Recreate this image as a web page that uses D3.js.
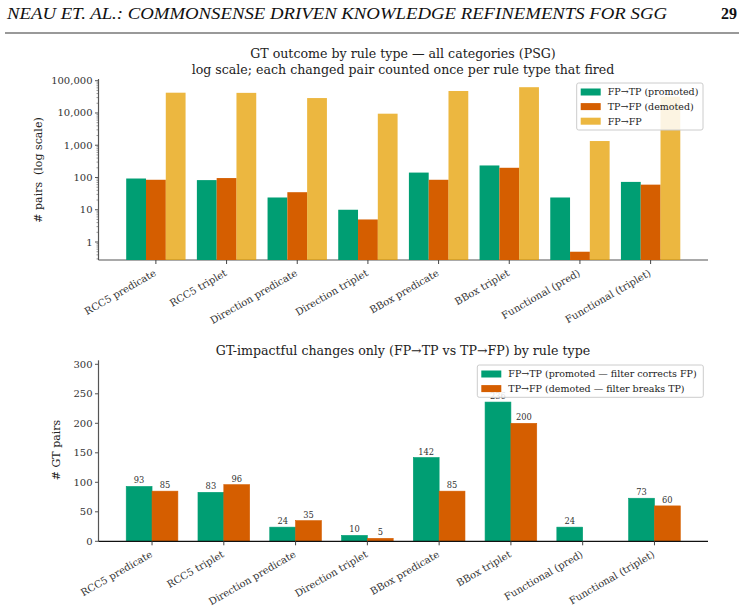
<!DOCTYPE html>
<html>
<head>
<meta charset="utf-8">
<script src="https://cdn.jsdelivr.net/npm/d3@7"></script>
<style>
  body { margin: 0; background: #fff; }
  svg { display: block; }
</style>
</head>
<body>
<div id="chart"></div>
<script>
// Rule-type breakdown of GT outcome changes (PSG), two stacked panels.

const categories = ["RCC5 predicate", "RCC5 triplet", "Direction predicate", "Direction triplet",
  "BBox predicate", "BBox triplet", "Functional (pred)", "Functional (triplet)"];
const promoted = [93, 83, 24, 10, 142, 236, 24, 73];      // FP→TP
const demoted = [85, 96, 35, 5, 85, 200, 0, 60];          // TP→FP
const fpToFp = [42500, 42000, 29000, 9500, 48000, 63000, 1350, 32000];
const logTicks = [1, 10, 100, 1000, 10000, 100000];
const linTicks = [0, 50, 100, 150, 200, 250, 300];

const green = "#009E73", orange = "#D55E00", yellow = "#E69F00";
const serif = "'DejaVu Serif', serif";

const width = 744, height = 608;
const svg = d3.select("#chart").append("svg")
  .attr("width", width).attr("height", height)
  .style("font-family", serif);

// page header
svg.append("text")
  .attr("x", 7).attr("y", 19)
  .attr("font-family", "'Liberation Serif', serif")
  .attr("font-style", "italic").attr("font-size", 16)
  .attr("textLength", 660).attr("lengthAdjust", "spacingAndGlyphs")
  .attr("fill", "#111")
  .text("NEAU ET. AL.: COMMONSENSE DRIVEN KNOWLEDGE REFINEMENTS FOR SGG");
svg.append("text")
  .attr("x", 737).attr("y", 19).attr("text-anchor", "end")
  .attr("font-family", "'Liberation Serif', serif")
  .attr("font-weight", "bold").attr("font-size", 16).attr("fill", "#111")
  .text("29");
svg.append("line")
  .attr("x1", 5).attr("x2", 739).attr("y1", 33).attr("y2", 33)
  .attr("stroke", "#777").attr("stroke-width", 1.5);

const left = 98.5, right = 708;

function xLabels(g, x, y0) {
  g.append("g").selectAll("text")
    .data(categories)
    .join("text")
    .attr("transform", (d, i) => `translate(${x(i) + 1},${y0 + 15}) rotate(-30)`)
    .attr("text-anchor", "end")
    .attr("font-size", 10).attr("fill", "#333")
    .text(d => d);
  g.append("g").selectAll("line")
    .data(categories)
    .join("line")
    .attr("x1", (d, i) => x(i)).attr("x2", (d, i) => x(i))
    .attr("y1", y0).attr("y2", y0 + 4)
    .attr("stroke", "#444");
}

function legend(g, x0, y0, w, h, items) {
  g.append("rect")
    .attr("x", x0).attr("y", y0).attr("width", w).attr("height", h)
    .attr("rx", 2).attr("fill", "#fff").attr("fill-opacity", 0.85)
    .attr("stroke", "#ccc").attr("stroke-width", 1);
  const row = g.selectAll("g.item").data(items).join("g")
    .attr("transform", (d, i) => `translate(${x0 + 4},${y0 + 9 + i * 14.6})`);
  row.append("rect")
    .attr("x", 0).attr("y", -3.5).attr("width", 20).attr("height", 7)
    .attr("fill", d => d.color).attr("fill-opacity", d => d.opacity || 1);
  row.append("text")
    .attr("x", 27).attr("dy", "0.35em")
    .attr("font-size", 9.5).attr("fill", "#222")
    .text(d => d.label);
}

// ---------- top panel: log scale ----------
{
  const g = svg.append("g");
  const x = d3.scaleLinear().domain([-0.812, 7.812]).range([left, right]);
  const y = d3.scaleLog().domain([0.277, 113000]).range([260, 79]);
  const bw = 0.28;

  g.append("text").attr("x", 403).attr("y", 58).attr("text-anchor", "middle")
    .attr("font-size", 12.6).attr("fill", "#222")
    .text("GT outcome by rule type — all categories (PSG)");
  g.append("text").attr("x", 403).attr("y", 73.5).attr("text-anchor", "middle")
    .attr("font-size", 12.6).attr("fill", "#222")
    .text("log scale; each changed pair counted once per rule type that fired");

  // minor ticks
  const minors = [];
  for (let e = -1; e <= 5; e++) for (let m = 2; m <= 9; m++) {
    const v = m * Math.pow(10, e);
    if (v > y.domain()[0] && v < y.domain()[1]) minors.push(v);
  }
  g.append("g").selectAll("line").data(minors).join("line")
    .attr("x1", left - 2).attr("x2", left)
    .attr("y1", d => y(d)).attr("y2", d => y(d))
    .attr("stroke", "#555").attr("stroke-width", 0.6);
  g.append("g").selectAll("line").data(logTicks).join("line")
    .attr("x1", left - 3.5).attr("x2", left)
    .attr("y1", d => y(d)).attr("y2", d => y(d))
    .attr("stroke", "#555");
  g.append("g").selectAll("text").data(logTicks).join("text")
    .attr("x", left - 6).attr("y", d => y(d)).attr("dy", "0.35em")
    .attr("text-anchor", "end").attr("font-size", 10).attr("fill", "#333")
    .text(d => d3.format(",")(d));

  g.append("line").attr("x1", left).attr("x2", left).attr("y1", 79).attr("y2", 260)
    .attr("stroke", "#555").attr("stroke-width", 1.2);
  g.append("line").attr("x1", left).attr("x2", right).attr("y1", 260).attr("y2", 260)
    .attr("stroke", "#555").attr("stroke-width", 1.2);

  const series = [
    { vals: promoted, color: green, off: -1, op: 1 },
    { vals: demoted, color: orange, off: 0, op: 1 },
    { vals: fpToFp, color: yellow, off: 1, op: 0.75 }
  ];
  series.forEach(s => {
    g.append("g").selectAll("rect").data(s.vals).join("rect")
      .attr("x", (d, i) => x(i + s.off * bw - bw / 2))
      .attr("width", x(bw) - x(0))
      .attr("y", d => y(Math.max(d, 0.5)))
      .attr("height", d => 260 - y(Math.max(d, 0.5)))
      .attr("fill", s.color).attr("fill-opacity", s.op);
  });

  xLabels(g, x, 260);

  g.append("text")
    .attr("transform", "translate(41.5,170) rotate(-90)")
    .attr("text-anchor", "middle").attr("font-size", 11).attr("fill", "#222")
    .attr("xml:space", "preserve")
    .text("# pairs  (log scale)");

  legend(g, 576.7, 83, 126.3, 47, [
    { label: "FP→TP (promoted)", color: green },
    { label: "TP→FP (demoted)", color: orange },
    { label: "FP→FP", color: yellow, opacity: 0.75 }
  ]);
}

// ---------- bottom panel: linear scale ----------
{
  const g = svg.append("g");
  const x = d3.scaleLinear().domain([-0.746, 7.746]).range([left, right]);
  const y = d3.scaleLinear().domain([0, 236 * 1.3]).range([541.3, 360.3]);
  const bw = 0.36;
  const y0 = y(0);

  g.append("text").attr("x", 403).attr("y", 355).attr("text-anchor", "middle")
    .attr("font-size", 12.6).attr("fill", "#222")
    .text("GT-impactful changes only (FP→TP vs TP→FP) by rule type");

  g.append("g").selectAll("line").data(linTicks).join("line")
    .attr("x1", left - 3.5).attr("x2", left)
    .attr("y1", d => y(d)).attr("y2", d => y(d))
    .attr("stroke", "#555");
  g.append("g").selectAll("text").data(linTicks).join("text")
    .attr("x", left - 6).attr("y", d => y(d)).attr("dy", "0.35em")
    .attr("text-anchor", "end").attr("font-size", 10).attr("fill", "#333")
    .text(d => d);

  g.append("line").attr("x1", left).attr("x2", left).attr("y1", y.range()[1]).attr("y2", y0)
    .attr("stroke", "#555").attr("stroke-width", 1.2);

  const series = [
    { vals: promoted, color: green, off: -0.5 },
    { vals: demoted, color: orange, off: 0.5 }
  ];
  series.forEach(s => {
    const pts = s.vals.map((v, i) => ({ v, i }));
    g.append("g").selectAll("rect").data(pts).join("rect")
      .attr("x", d => x(d.i + s.off * bw - bw / 2))
      .attr("width", x(bw) - x(0))
      .attr("y", d => y(d.v))
      .attr("height", d => y0 - y(d.v))
      .attr("fill", s.color)
      .attr("stroke", s.color).attr("stroke-width", 0.6);
    g.append("g").selectAll("text").data(pts.filter(d => d.v > 0)).join("text")
      .attr("x", d => x(d.i + s.off * bw))
      .attr("y", d => y(d.v) - 3)
      .attr("text-anchor", "middle").attr("font-size", 8.3).attr("fill", "#333")
      .text(d => d.v);
  });

  g.append("line").attr("x1", left).attr("x2", right).attr("y1", y0).attr("y2", y0)
    .attr("stroke", "#111").attr("stroke-width", 1.2);

  xLabels(g, x, y0);

  g.append("text")
    .attr("transform", "translate(60,450) rotate(-90)")
    .attr("text-anchor", "middle").attr("font-size", 11).attr("fill", "#222")
    .text("# GT pairs");

  legend(g, 477.3, 365, 226, 32.3, [
    { label: "FP→TP (promoted — filter corrects FP)", color: green },
    { label: "TP→FP (demoted — filter breaks TP)", color: orange }
  ]);
}
</script>
</body>
</html>
